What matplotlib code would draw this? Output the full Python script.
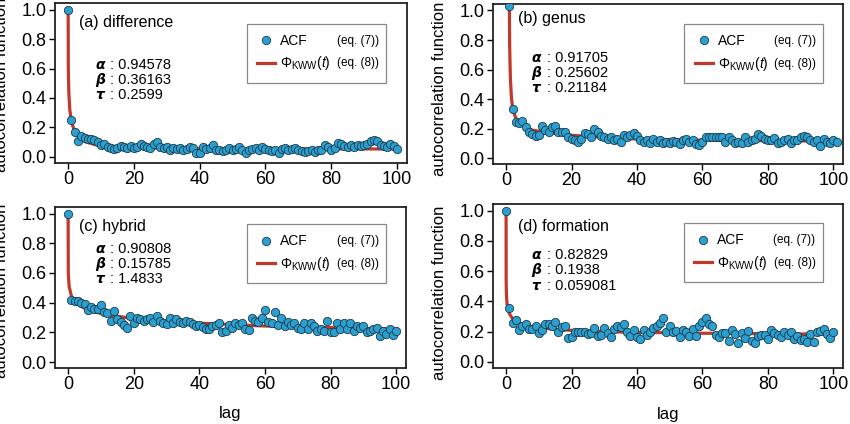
import numpy as np
import matplotlib.pyplot as plt

plt.rcParams['font.family'] = ['Liberation Sans', 'DejaVu Sans']
plt.rcParams['mathtext.fontset'] = 'custom'
plt.rcParams['mathtext.rm'] = 'Liberation Sans'
plt.rcParams['mathtext.it'] = 'Liberation Sans:italic'

# --- data ---
lags_a = list(range(0, 101))
acf_a = [1.00, 0.25, 0.17, 0.11, 0.14, 0.13, 0.12, 0.12, 0.115, 0.10,
         0.08, 0.09, 0.07, 0.06, 0.055, 0.06, 0.075, 0.065, 0.06, 0.075,
         0.06, 0.07, 0.09, 0.075, 0.07, 0.06, 0.085, 0.10, 0.07, 0.06,
         0.065, 0.05, 0.06, 0.055, 0.06, 0.05, 0.055, 0.065, 0.06, 0.03,
         0.03, 0.07, 0.055, 0.06, 0.08, 0.05, 0.045, 0.04, 0.05, 0.06,
         0.05, 0.055, 0.065, 0.045, 0.03, 0.045, 0.055, 0.06, 0.045, 0.065,
         0.055, 0.05, 0.04, 0.045, 0.03, 0.055, 0.06, 0.05, 0.055, 0.06,
         0.05, 0.04, 0.035, 0.04, 0.05, 0.035, 0.045, 0.05, 0.08, 0.07,
         0.05, 0.06, 0.095, 0.085, 0.075, 0.065, 0.08, 0.07, 0.08, 0.075,
         0.08, 0.09, 0.105, 0.115, 0.11, 0.08, 0.075, 0.07, 0.09, 0.075,
         0.055]
fit_t_a = [0, 0.05, 0.2, 0.5, 1, 2, 3, 5, 8, 12, 20, 35, 60, 100]
fit_a = [1.0, 0.60, 0.44, 0.32, 0.24, 0.17, 0.14, 0.105, 0.084, 0.072, 0.062, 0.057, 0.055, 0.054]

lags_b = list(range(1, 102))
acf_b = [1.03, 0.33, 0.245, 0.24, 0.25, 0.21, 0.18, 0.165, 0.15, 0.16,
         0.22, 0.19, 0.18, 0.21, 0.22, 0.18, 0.175, 0.175, 0.14, 0.13,
         0.12, 0.11, 0.13, 0.17, 0.165, 0.14, 0.20, 0.18, 0.15, 0.14,
         0.13, 0.14, 0.125, 0.13, 0.11, 0.16, 0.14, 0.155, 0.17, 0.15,
         0.12, 0.11, 0.12, 0.105, 0.13, 0.11, 0.12, 0.10, 0.11, 0.10,
         0.115, 0.11, 0.095, 0.12, 0.13, 0.11, 0.12, 0.095, 0.09, 0.11,
         0.14, 0.145, 0.14, 0.14, 0.14, 0.145, 0.11, 0.14, 0.12, 0.105,
         0.11, 0.10, 0.14, 0.11, 0.12, 0.13, 0.165, 0.15, 0.13, 0.12,
         0.12, 0.135, 0.10, 0.11, 0.12, 0.13, 0.10, 0.125, 0.12, 0.14,
         0.15, 0.14, 0.12, 0.11, 0.12, 0.085, 0.13, 0.11, 0.105, 0.12,
         0.11]
fit_t_b = [1, 1.1, 1.3, 1.6, 2, 3, 5, 8, 12, 20, 30, 40, 60, 80, 101]
fit_b = [1.02, 0.75, 0.55, 0.42, 0.33, 0.27, 0.22, 0.19, 0.175, 0.155, 0.14, 0.13, 0.122, 0.118, 0.115]

lags_c = list(range(0, 101))
acf_c = [1.00, 0.42, 0.41, 0.41, 0.40, 0.39, 0.35, 0.37, 0.36, 0.355,
         0.385, 0.34, 0.33, 0.28, 0.345, 0.29, 0.27, 0.25, 0.23, 0.31,
         0.265, 0.30, 0.29, 0.28, 0.29, 0.30, 0.27, 0.31, 0.28, 0.26,
         0.255, 0.30, 0.26, 0.29, 0.27, 0.26, 0.28, 0.27, 0.255, 0.24,
         0.25, 0.235, 0.22, 0.22, 0.24, 0.25, 0.265, 0.205, 0.21, 0.25,
         0.23, 0.26, 0.25, 0.26, 0.22, 0.215, 0.30, 0.28, 0.27, 0.30,
         0.35, 0.27, 0.26, 0.34, 0.25, 0.30, 0.24, 0.27, 0.25, 0.26,
         0.23, 0.22, 0.26, 0.22, 0.26, 0.24, 0.21, 0.22, 0.21, 0.28,
         0.20, 0.20, 0.26, 0.22, 0.26, 0.22, 0.265, 0.21, 0.24, 0.23,
         0.245, 0.20, 0.21, 0.22, 0.23, 0.175, 0.21, 0.19, 0.22, 0.18,
         0.21]
fit_t_c = [0, 0.05, 0.3, 1, 2, 3, 5, 8, 12, 20, 35, 60, 100]
fit_c = [1.0, 0.60, 0.51, 0.445, 0.41, 0.39, 0.362, 0.338, 0.318, 0.293, 0.267, 0.243, 0.222]

lags_d = list(range(0, 101))
acf_d = [1.00, 0.36, 0.26, 0.28, 0.21, 0.235, 0.25, 0.22, 0.22, 0.24,
         0.19, 0.21, 0.25, 0.25, 0.24, 0.265, 0.20, 0.23, 0.235, 0.16,
         0.165, 0.20, 0.20, 0.20, 0.20, 0.185, 0.19, 0.225, 0.175, 0.18,
         0.225, 0.19, 0.165, 0.22, 0.235, 0.23, 0.25, 0.195, 0.17, 0.21,
         0.165, 0.15, 0.21, 0.18, 0.195, 0.225, 0.24, 0.255, 0.29, 0.20,
         0.235, 0.20, 0.205, 0.165, 0.21, 0.20, 0.175, 0.22, 0.175, 0.24,
         0.265, 0.29, 0.25, 0.235, 0.18, 0.165, 0.19, 0.19, 0.14, 0.21,
         0.185, 0.125, 0.19, 0.16, 0.205, 0.14, 0.125, 0.175, 0.18, 0.18,
         0.155, 0.21, 0.19, 0.18, 0.165, 0.20, 0.18, 0.20, 0.15, 0.17,
         0.145, 0.155, 0.135, 0.185, 0.135, 0.20, 0.205, 0.22, 0.185, 0.16,
         0.195]
fit_t_d = [0, 0.02, 0.1, 0.3, 1, 2, 3, 5, 8, 12, 20, 35, 60, 100]
fit_d = [1.0, 0.54, 0.445, 0.382, 0.319, 0.286, 0.269, 0.25, 0.234, 0.222, 0.209, 0.198, 0.19, 0.184]

titles = ["(a) difference", "(b) genus", "(c) hybrid", "(d) formation"]
alphas = ["0.94578", "0.91705", "0.90808", "0.82829"]
betas = ["0.36163", "0.25602", "0.15785", "0.1938"]
taus = ["0.2599", "0.21184", "1.4833", "0.059081"]
eq_labels = ["(eq. (7))", "(eq. (8))"]

panels = [
    (lags_a, acf_a, fit_t_a, fit_a),
    (lags_b, acf_b, fit_t_b, fit_b),
    (lags_c, acf_c, fit_t_c, fit_c),
    (lags_d, acf_d, fit_t_d, fit_d),
]

# axes rectangles in figure fractions (left, bottom, width, height)
rects = [
    (0.0647, 0.616, 0.414, 0.377),
    (0.580, 0.613, 0.412, 0.378),
    (0.0647, 0.132, 0.413, 0.380),
    (0.580, 0.132, 0.412, 0.387),
]
title_pos = [(0.068, 0.88), (0.07, 0.91), (0.068, 0.876), (0.07, 0.86)]
param_pos = [(0.114, 0.61), (0.11, 0.66), (0.114, 0.74), (0.11, 0.69)]
legend_box = [(0.545, 0.87, 0.395), (0.546, 0.875, 0.397),
              (0.547, 0.894, 0.396), (0.545, 0.884, 0.396)]
ylabel_y = [0.49, 0.47, 0.478, 0.46]

dot_color = '#2a9fd0'
line_color = '#c0392b'

fig = plt.figure(figsize=(8.5, 4.24), dpi=100)
legends = []

for i, (lags, acf, ft, fv) in enumerate(panels):
    ax = fig.add_axes(rects[i])
    ax.plot(ft, fv, color=line_color, lw=2.3, zorder=2, label=r'$\Phi_{\mathrm{KWW}}(t)$')
    ax.plot(lags, acf, 'o', ms=6, mfc=dot_color, mec='#1d3c4c', mew=0.6,
            zorder=3, label='ACF')
    ax.set_xlim(-4, 103)
    ax.set_ylim(-0.04, 1.045)
    ax.set_xticks([0, 20, 40, 60, 80, 100])
    ax.set_yticks([0.0, 0.2, 0.4, 0.6, 0.8, 1.0])
    ax.set_yticklabels(["0.0", "0.2", "0.4", "0.6", "0.8", "1.0"])
    ax.tick_params(direction='out', length=4, width=1, labelsize=13, pad=2)
    for s in ax.spines.values():
        s.set_linewidth(1.3)
        s.set_color('#222222')

    ax.set_ylabel("autocorrelation function", fontsize=12)
    ax.yaxis.set_label_coords(-0.131, ylabel_y[i])
    if i >= 2:
        ax.set_xlabel("lag", fontsize=12)
        ax.xaxis.set_label_coords(0.5, -0.235)

    ax.text(title_pos[i][0], title_pos[i][1], titles[i], transform=ax.transAxes,
            fontsize=11.5, va='center', ha='left')

    px, py = param_pos[i]
    for k, (g, v) in enumerate(zip(['α', 'β', 'τ'], [alphas[i], betas[i], taus[i]])):
        yy = py - k * 0.094
        ax.text(px, yy, g, transform=ax.transAxes, fontsize=10, fontweight='bold',
                fontstyle='italic', va='center', ha='left', family='DejaVu Sans')
        ax.text(px + 0.043, yy, ": " + v, transform=ax.transAxes, fontsize=10.5,
                va='center', ha='left')

    x0, y1, w = legend_box[i]
    handles, labels = ax.get_legend_handles_labels()
    leg = ax.legend(handles[::-1], labels[::-1], loc='upper left',
                    bbox_to_anchor=(x0, y1, w, 0), mode='expand',
                    fontsize=10, frameon=True, fancybox=False, framealpha=1,
                    edgecolor='#888888', borderpad=0.75, labelspacing=0.45,
                    handlelength=1.3, handletextpad=0.35, borderaxespad=0)
    leg.get_frame().set_linewidth(0.9)
    leg.get_texts()[1].set_fontsize(10)
    legends.append((ax, leg, x0 + w - 0.02))

# put the "(eq. ...)" notes on the legend rows
fig.canvas.draw()
renderer = fig.canvas.get_renderer()
for ax, leg, xr in legends:
    for t, note in zip(leg.get_texts(), eq_labels):
        bb = t.get_window_extent(renderer)
        yc = ax.transAxes.inverted().transform((0, (bb.y0 + bb.y1) / 2))[1]
        ax.text(xr, yc, note, transform=ax.transAxes, fontsize=8.5,
                ha='right', va='center', zorder=6)

fig.savefig("out.png", dpi=100)
